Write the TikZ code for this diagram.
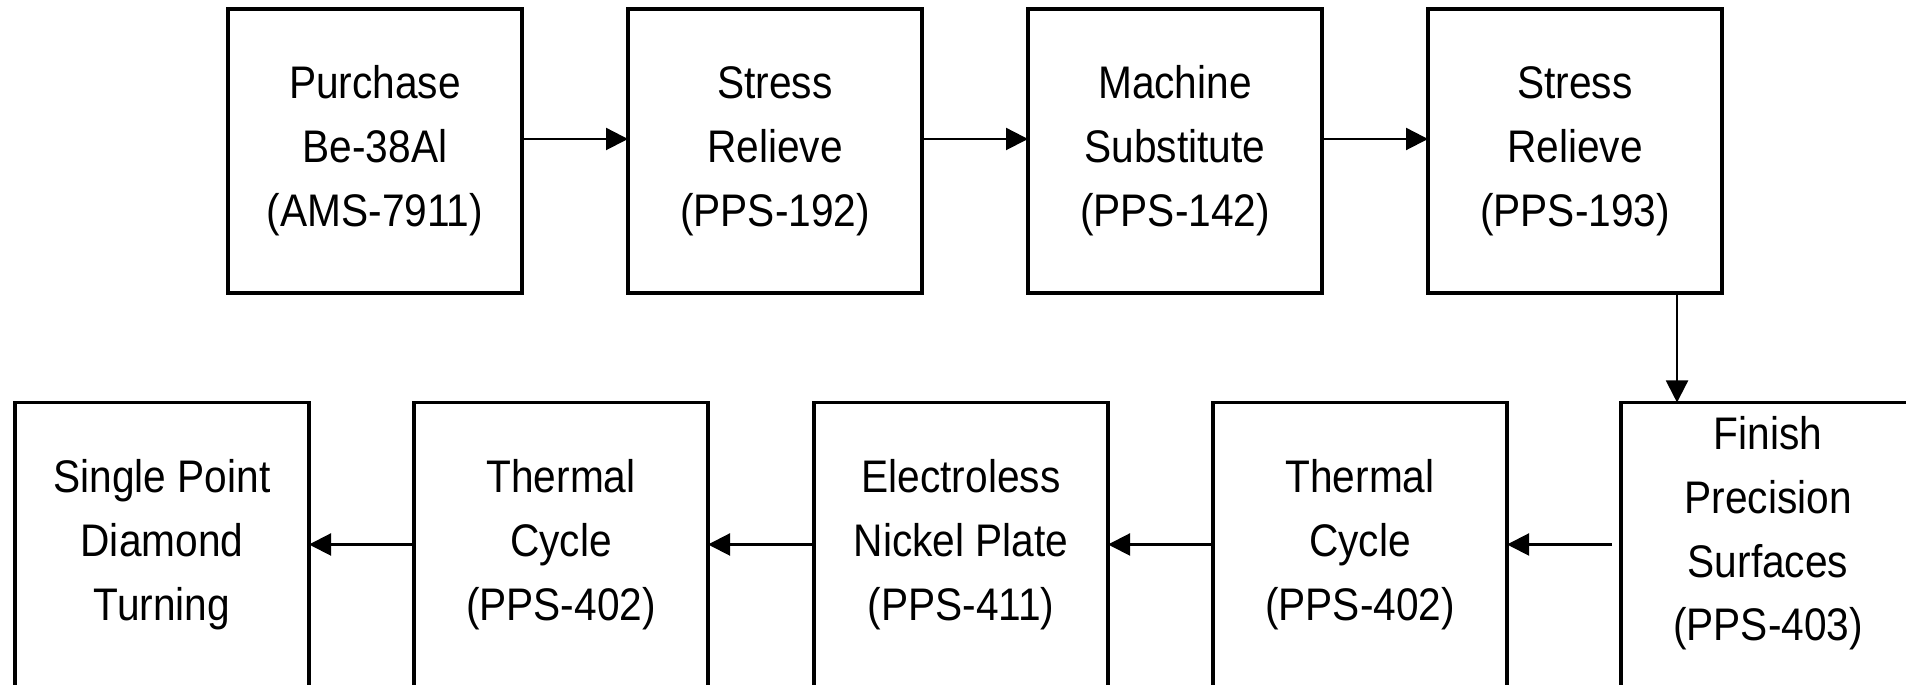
\documentclass[tikz,border=0pt]{standalone}
\usepackage{fontspec}
\setmainfont[FakeStretch=0.89]{Liberation Sans}
\usetikzlibrary{shapes,arrows.meta,positioning,calc}

\begin{document}
\begin{tikzpicture}[
    stepbox/.style={draw, line width=0.9pt, minimum width=2.94cm, minimum height=2.84cm,
        inner sep=0pt, outer sep=0pt, align=center, font=\fontsize{13}{18.2}\selectfont},
    flow/.style={-{Triangle[length=2.2mm,width=2.2mm]}, line width=0.6pt}
]
\useasboundingbox (0,0) rectangle (19.06,6.85);

% Top row
\node[stepbox] (buy) at (3.75,5.34) {Purchase\\Be-38Al\\(AMS-7911)};
\node[stepbox, right=1.06cm of buy] (relieveA) {Stress\\Relieve\\(PPS-192)};
\node[stepbox, right=1.06cm of relieveA] (machine) {Machine\\Substitute\\(PPS-142)};
\node[stepbox, right=1.06cm of machine] (relieveB) {Stress\\Relieve\\(PPS-193)};

% Bottom row
\node[stepbox] (turning) at (1.62,1.405) {Single Point\\Diamond\\Turning};
\node[stepbox, right=1.05cm of turning] (cycleA) {Thermal\\Cycle\\(PPS-402)};
\node[stepbox, right=1.06cm of cycleA] (plate) {Electroless\\Nickel Plate\\(PPS-411)};
\node[stepbox, right=1.05cm of plate] (cycleB) {Thermal\\Cycle\\(PPS-402)};
\node[stepbox, right=1.14cm of cycleB] (finish) {Finish\\Precision\\Surfaces\\(PPS-403)\rule[-3.2mm]{0pt}{0pt}};

% Arrows
\draw[flow] ([yshift=1.2mm]buy.east) -- ([yshift=1.2mm]relieveA.west);
\draw[flow] ([yshift=1.2mm]relieveA.east) -- ([yshift=1.2mm]machine.west);
\draw[flow] ([yshift=1.2mm]machine.east) -- ([yshift=1.2mm]relieveB.west);
\draw[flow] ([xshift=1.02cm]relieveB.south) -- ([xshift=1.02cm]relieveB.south |- finish.north);
\draw[flow, shorten <=0.9mm] (finish.west) -- (cycleB.east);
\draw[flow] (cycleB.west) -- (plate.east);
\draw[flow] (plate.west) -- (cycleA.east);
\draw[flow] (cycleA.west) -- (turning.east);
\end{tikzpicture}
\end{document}
